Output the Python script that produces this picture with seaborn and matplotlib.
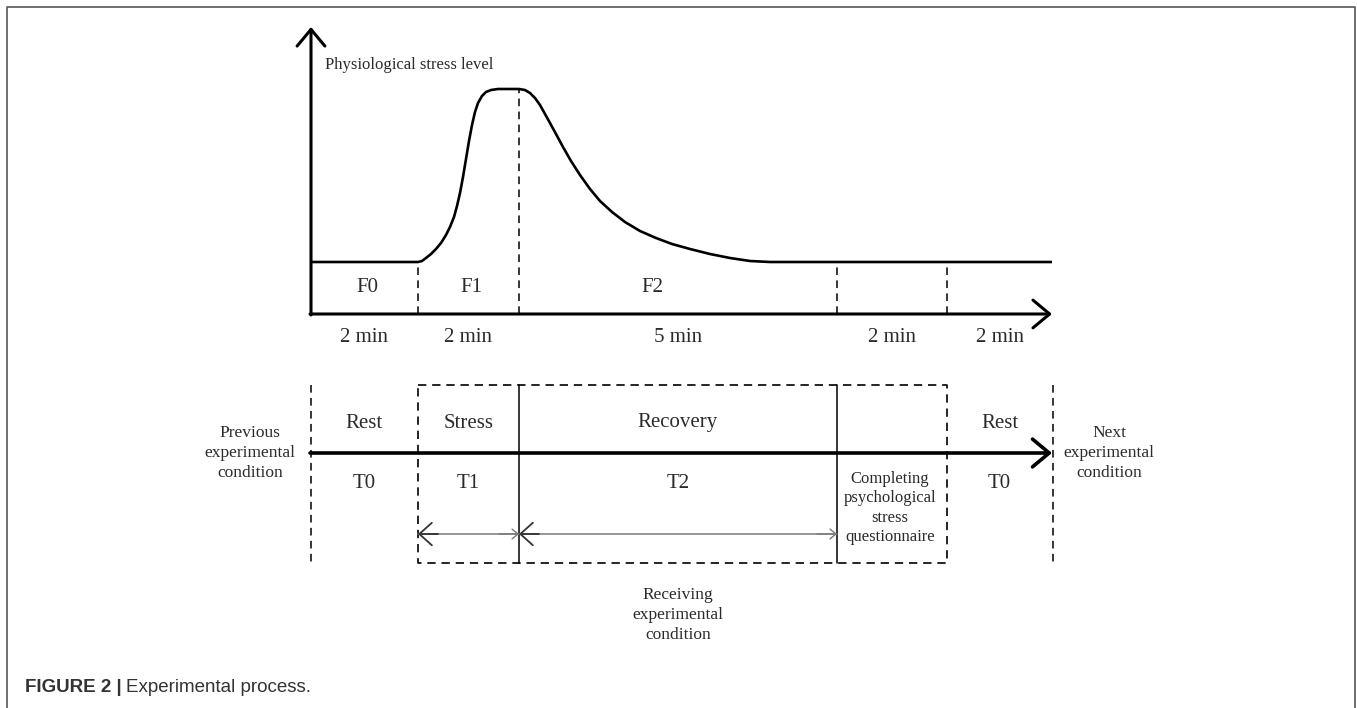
import seaborn as sns
import matplotlib.pyplot as plt

# ---- data ---------------------------------------------------------------
# phase boundaries along the (schematic) time axis, drawing units from the y-axis
bounds = [0, 107, 208, 526, 636, 741]
top_labels = ["F0", "F1", "F2", "", ""]
durations = ["2 min", "2 min", "5 min", "2 min", "2 min"]
phase_names = ["Rest", "Stress", "Recovery", "", "Rest"]
phase_codes = ["T0", "T1", "T2", "Completing\npsychological\nstress\nquestionnaire", "T0"]

# physiological stress curve (schematic units above the time axis)
curve_x = [0, 107, 111, 115, 120, 125, 130, 135, 139, 143, 146, 149, 152, 155, 158,
           161, 164, 167, 171, 175, 180, 187,
           208, 214, 219, 224, 229, 234, 239, 245, 252, 260, 269, 279, 289, 301, 314,
           329, 345, 361, 379, 399, 419, 439, 459, 741]
curve_y = [52, 52, 53, 56, 60, 65, 71, 79, 87, 97, 108, 121, 137, 155, 173,
           189, 202, 211, 218, 222, 224, 225,
           225, 224, 221, 216, 209, 200, 191, 180, 167, 153, 139, 125, 113, 102, 92,
           83, 76, 70, 65, 60, 56, 53, 52, 52]
baseline = 52
peak = 225

# ---- layout --------------------------------------------------------------
W, H = 1357, 708
X0, Y_AXIS, Y_TOP = 311, 314, 27       # top chart origin / arrow tip (pixels)
Y_LINE, Y_BOX0, Y_BOX1 = 453, 385, 563  # bottom timeline
Y_ARROW = 534

sns.set_theme(style="white")
plt.rcParams["font.family"] = ["Liberation Serif", "DejaVu Serif"]

fig = plt.figure(figsize=(W / 100, H / 100), dpi=100)
ax = fig.add_axes([0, 0, 1, 1])
ax.set_xlim(0, W)
ax.set_ylim(H, 0)
ax.axis("off")

span = bounds[-1]
ax_top = fig.add_axes([X0 / W, 1 - Y_AXIS / H, span / W, (Y_AXIS - Y_TOP) / H])
ax_top.set_xlim(0, span)
ax_top.set_ylim(0, Y_AXIS - Y_TOP)
ax_top.axis("off")
ax_top.patch.set_alpha(0)

txt = "#2b2b2b"
dash = (0, (5, 3.5))

# frame
ax.plot([7, 7, 1355, 1355], [H, 7, 7, H], color="#555555", lw=1.2, clip_on=False)

# --- top chart: stress curve ---
sns.lineplot(x=curve_x, y=curve_y, ax=ax_top, color="black", lw=1.9,
             sort=False, estimator=None)
big_head = dict(arrowstyle="->,head_length=0.6,head_width=0.5", lw=2.2, color="black",
                mutation_scale=20, shrinkA=0, shrinkB=0)
ax_top.annotate("", xy=(0, Y_AXIS - Y_TOP), xytext=(0, -1), arrowprops=big_head,
                annotation_clip=False)
ax_top.annotate("", xy=(span, 0), xytext=(-1, 0), arrowprops=big_head,
                annotation_clip=False)

for i, b in enumerate(bounds[1:-1], start=1):
    top = peak if i == 2 else baseline
    ax_top.plot([b, b], [0, top], color="black", lw=1.1, ls=dash, clip_on=False)

f_offsets = {"F2": -26}
for i, lab in enumerate(top_labels):
    mid = (bounds[i] + bounds[i + 1]) / 2
    if lab:
        ax_top.text(mid + f_offsets.get(lab, 3), 27, lab, ha="center", va="center",
                    fontsize=15, color=txt)
    ax_top.text(mid, -23, durations[i], ha="center", va="center", fontsize=15, color=txt)

ax_top.text(14, 249, "Physiological stress level", ha="left", va="center",
            fontsize=12, color=txt)

# --- bottom timeline ---
xs = [X0 + b for b in bounds]
ax.annotate("", xy=(xs[-1], Y_LINE), xytext=(xs[0] - 1, Y_LINE),
            arrowprops=dict(big_head, lw=2.6))
for x in (xs[0], xs[-1] + 1):
    ax.plot([x, x], [Y_BOX0, Y_BOX1], color="black", lw=1.1, ls=dash)
# dashed box around the experimental block
ax.plot([xs[1], xs[4], xs[4], xs[1], xs[1]],
        [Y_BOX0, Y_BOX0, Y_BOX1, Y_BOX1, Y_BOX0], color="black", lw=1.2, ls=dash)
for x in (xs[2], xs[3]):
    ax.plot([x, x], [Y_BOX0, Y_BOX1], color="black", lw=1.1)

for i in range(5):
    mid = (xs[i] + xs[i + 1]) / 2
    if phase_names[i]:
        ax.text(mid, 423, phase_names[i], ha="center", va="center", fontsize=15, color=txt)
    if "\n" in phase_codes[i]:
        ax.text(mid - 2, 508, phase_codes[i], ha="center", va="center", fontsize=12,
                color=txt, linespacing=1.3)
    else:
        ax.text(mid, 484, phase_codes[i], ha="center", va="center", fontsize=15, color=txt)

# interval arrows (stress / recovery)
gray = "#7a7a7a"
for a, b in ((xs[1], xs[2]), (xs[2], xs[3])):
    ax.plot([a, b], [Y_ARROW, Y_ARROW], color=gray, lw=1.1)
    ax.annotate("", xy=(a, Y_ARROW), xytext=(a + 20, Y_ARROW),
                arrowprops=dict(arrowstyle="->,head_length=0.5,head_width=0.45", lw=1.3,
                                color="#333333", mutation_scale=18, shrinkA=0, shrinkB=0))
    ax.annotate("", xy=(b, Y_ARROW), xytext=(b - 20, Y_ARROW),
                arrowprops=dict(arrowstyle="->,head_length=0.3,head_width=0.25", lw=1.0,
                                color=gray, mutation_scale=14, shrinkA=0, shrinkB=0))

ax.text(250, 453, "Previous\nexperimental\ncondition", ha="center", va="center",
        fontsize=12.5, color=txt, linespacing=1.3)
ax.text(1109, 453, "Next\nexperimental\ncondition", ha="center", va="center",
        fontsize=12.5, color=txt, linespacing=1.3)
ax.text(678, 615, "Receiving\nexperimental\ncondition", ha="center", va="center",
        fontsize=12.5, color=txt, linespacing=1.3)

# caption
cap_font = ["Liberation Sans", "DejaVu Sans"]
t1 = ax.text(25, 688, "FIGURE 2 |", ha="left", va="center", fontsize=13.5,
             fontweight="bold", color="#333333", family=cap_font)
fig.canvas.draw()
bb = t1.get_window_extent()
ax.text(bb.x1 + 4, 688, "Experimental process.", ha="left", va="center",
        fontsize=13.5, color="#333333", family=cap_font)

fig.savefig("out.png", dpi=100)
